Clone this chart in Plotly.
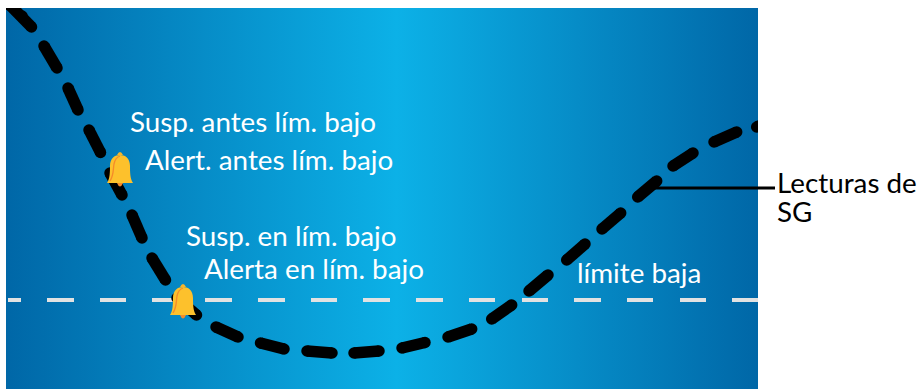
import plotly.graph_objects as go

# Panel extent
panel_x = [6, 758, 758, 6, 6]
panel_y = [8, 8, 389, 389, 8]
panel_colors = [[0, "#0067A7"], [0.52, "#0CB1E7"], [1, "#0067A7"]]

# Glucose (SG) trace: dash pieces
sg_x = [10, 22, 31.5, None, 44, 57, None, 68, 78, None, 89, 100.5, None, 110, 122, None,
        132, 142, None, 152, 165.5, None, 177, 196.5, None, 216, 238, None, 260.5, 284, None,
        307, 332, None, 354, 379, None, 402, 425, None, 448, 471.7, None, 491.7, 511.7, None,
        529, 548, None, 566.7, 585, None, 602, 620.7, None, 637.7, 656.7, None, 673, 693, None,
        714, 736.7, None, 756.7, 770]
sg_y = [5, 16, 27, None, 46, 68, None, 88, 110, None, 130, 152.5, None, 173, 195, None,
        215, 238, None, 258, 280, None, 298, 315, None, 327, 337, None, 343, 349, None,
        351, 353, None, 353, 351, None, 348, 342.5, None, 337, 329, None, 319, 305, None,
        291, 275, None, 260, 244, None, 229, 213, None, 197, 181, None, 166, 153, None,
        142, 132, None, 127, 122]

# Low limit dashes
limit_x = [8, 21, None, 47, 74, None, 100, 126, None, 152, 179, None, 205, 232, None,
           258, 285, None, 311, 337, None, 363, 390, None, 416, 443, None, 469, 495, None,
           522, 548, None, 574, 601, None, 627, 653, None, 680, 706, None, 732, 759]
limit_y = [300 if v is not None else None for v in limit_x]

# Leader line
leader_x = [650, 775]
leader_y = [188, 188]

# Labels
white_text = ["Susp. antes lím. bajo", "Alert. antes lím. bajo", "Susp. en lím. bajo",
              "Alerta en lím. bajo", "límite baja"]
white_x = [130, 145, 186, 204, 577]
white_y = [125.5, 163.5, 239.5, 272, 276.5]
black_text = ["Lecturas de", "SG"]
black_x = [777, 777]
black_y = [186.5, 215.5]

# Bell anchors (centre of rim)
bell_x = [120, 183]
bell_y = [183, 315]

FONT = "Lato"
SIZE = 27.8
fig = go.Figure()
fig.add_trace(go.Scatter(x=panel_x, y=panel_y, mode="lines", line=dict(width=0), fill="toself",
                         fillgradient=dict(type="horizontal", colorscale=panel_colors),
                         fillcolor="#0CB1E7", hoverinfo="skip"))
fig.add_trace(go.Scatter(x=limit_x, y=limit_y, mode="lines", line=dict(color="#E2E2E2", width=4),
                         hoverinfo="skip"))
fig.add_trace(go.Scatter(x=sg_x, y=sg_y, mode="lines+markers", line=dict(color="#000000", width=11.5),
                         marker=dict(color="#000000", size=11.5, line=dict(width=0)), hoverinfo="skip"))
fig.add_trace(go.Scatter(x=leader_x, y=leader_y, mode="lines", line=dict(color="#000000", width=3),
                         xaxis="x2", yaxis="y2", hoverinfo="skip"))
fig.add_trace(go.Scatter(x=white_x, y=white_y, mode="text", text=white_text, textposition="middle right",
                         textfont=dict(family=FONT, size=SIZE, color="#FFFFFF"),
                         xaxis="x2", yaxis="y2", hoverinfo="skip"))
fig.add_trace(go.Scatter(x=black_x, y=black_y, mode="text", text=black_text, textposition="middle right",
                         textfont=dict(family=FONT, size=SIZE, color="#000000"),
                         xaxis="x2", yaxis="y2", hoverinfo="skip"))

shapes = []
for cx, by in zip(bell_x, bell_y):
    def P(dx, dy):
        return f"{cx + dx},{by + dy}"
    body = (f"M{P(-13,0)} C{P(-10,-4)} {P(-10,-12)} {P(-10,-17)} C{P(-10,-25)} {P(-5,-28)} {P(0,-28)} "
            f"C{P(5,-28)} {P(10,-25)} {P(10,-17)} C{P(10,-12)} {P(10,-4)} {P(13,0)} Z")
    refs = dict(xref="x2", yref="y2")
    shapes.append(dict(type="path", path=f"M{P(-3,0)} Q{P(0,7)} {P(3,0)} Z",
                       fillcolor="#F58B2A", line=dict(width=0), **refs))
    shapes.append(dict(type="path", path=f"M{P(-3,-28)} Q{P(0,-34)} {P(3,-28)} Z",
                       fillcolor="#F9B62A", line=dict(width=0), **refs))
    shapes.append(dict(type="path", path=body, fillcolor="#FDC12C", line=dict(width=0), **refs))
    shapes.append(dict(type="path", path=f"M{P(-10,-2)} C{P(-6,-8)} {P(-7,-14)} {P(-6,-19)} C{P(-5,-24)} {P(-3,-26)} {P(0,-27)}",
                       line=dict(color="#F58B2A", width=1.3), **refs))

fig.update_layout(
    width=920, height=389, autosize=False,
    margin=dict(l=0, r=0, t=0, b=0),
    paper_bgcolor="#FFFFFF", plot_bgcolor="rgba(0,0,0,0)",
    showlegend=False, hovermode=False, shapes=shapes,
    xaxis=dict(range=[6, 758], domain=[6 / 920, 758 / 920], visible=False, fixedrange=True),
    yaxis=dict(range=[389, 8], domain=[0, 381 / 389], visible=False, fixedrange=True),
    xaxis2=dict(range=[0, 920], domain=[0, 1], anchor="y2", visible=False, fixedrange=True),
    yaxis2=dict(range=[389, 0], domain=[0, 1], anchor="x2", visible=False, fixedrange=True),
)
fig.write_html("out.html", config=dict(displayModeBar=False),
               post_script="document.body.style.margin='0';document.body.style.overflow='hidden';")
